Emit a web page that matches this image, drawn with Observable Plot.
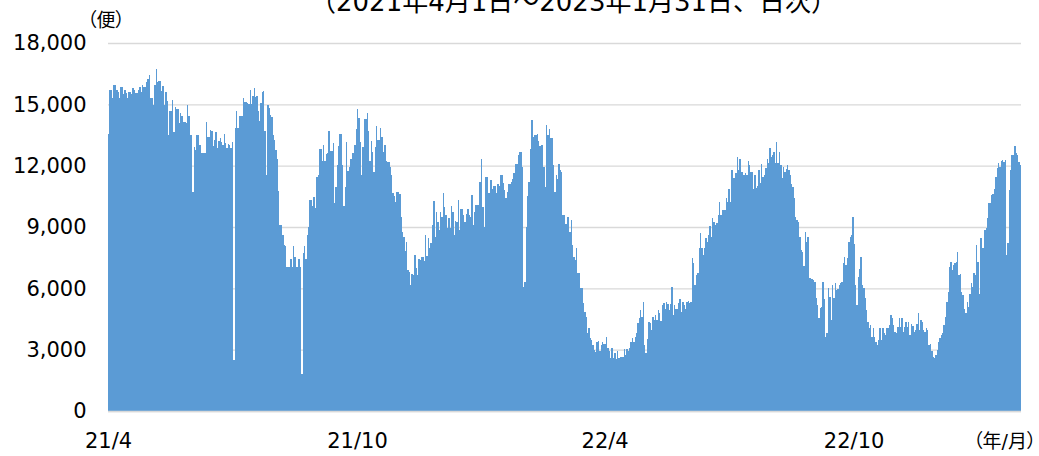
<!DOCTYPE html>
<html><head><meta charset="utf-8">
<script src="https://cdn.jsdelivr.net/npm/d3@7"></script>
<script src="https://cdn.jsdelivr.net/npm/@observablehq/plot@0.6"></script>
<style>
body{margin:0;background:#fff;}
#wrap{position:relative;width:1039px;height:456px;overflow:hidden;font-family:"DejaVu Sans","Noto Sans CJK JP",sans-serif;color:#000;}
#title{position:absolute;left:310px;top:-11px;font-size:26px;line-height:26px;white-space:nowrap;}
#unit{position:absolute;left:87px;top:9px;font-size:19px;line-height:22px;white-space:nowrap;font-feature-settings:"palt";}
#xunit{position:absolute;left:973px;top:430px;font-size:19px;line-height:22px;white-space:nowrap;font-feature-settings:"palt";}
#chart{position:absolute;left:0;top:0;}
</style></head>
<body>
<div id="wrap">
  <div id="chart"></div>
  <div id="title"></div>
  <div id="unit"></div>
  <div id="xunit"></div>
</div>
<script>
// Text
const titleText = "（2021年4月1日～2023年1月31日、日次）";
const unitText = "（便）";
const xUnitText = "（年/月）";

// Axis ticks
const yTicks = [0, 3000, 6000, 9000, 12000, 15000, 18000];
const xTickDates = ["2021-04-01", "2021-10-01", "2022-04-01", "2022-10-01"];
const xTickLabels = ["21/4", "21/10", "22/4", "22/10"];

// Daily flights, one array per month
const apr2021 = [13550,15700,15700,15300,15950,15950,15700,15600,15300,15850,15850,15500,15700,15550,15300,15600,15600,15500,15800,15700,15550,15550,15700,15850,15600,15950,15850,15850,16100,16250];
const may2021 = [16450,15300,15300,14950,15950,16750,16100,16150,16150,15650,15900,14950,15600,15150,13500,14650,14650,15200,13650,14850,14750,14750,14100,14600,14450,14150,14150,14100,14950,14450,13500];
const jun2021 = [13500,10700,12900,12750,13500,13500,13000,12600,12600,12600,12600,14150,13400,13400,13750,13700,12950,13250,13650,12850,13200,13350,13150,13000,13550,13100,12850,13050,13000,12850];
const jul2021 = [13150,2500,13850,14650,13850,14450,14450,14450,15300,15100,15100,15050,15000,15700,15000,15400,15800,15350,15400,14650,14200,15050,15600,15650,13700,11550,14950,14800,14500,14400,13500];
const aug2021 = [13250,12750,12350,10750,9100,9100,8600,8100,8050,7050,7050,7050,7450,7050,8050,7550,7050,7050,7450,7050,1800,7750,8050,7450,8600,9000,10300,10300,10050,10450,9950];
const sep2021 = [11450,11550,12800,12800,12250,13000,12250,12550,12600,13700,12700,12700,13100,10150,10950,12050,12950,13550,13550,12050,10050,10950,13150,11750,11950,12350,12600,12600,13000,13800];
const oct2021 = [14750,14350,13150,11550,12900,14300,14300,14600,13700,12250,13200,12650,11700,12900,13950,13250,13250,13850,13400,12650,13000,12250,12200,12200,11950,11550,10650,10500,10200,10700,10700];
const nov2021 = [10600,9500,8750,8500,7850,8250,6900,6800,6150,6700,6650,7650,7000,6650,7450,7400,7550,7550,7350,8600,7600,8450,7950,8200,9100,10250,8500,9750,9250,8850];
const dec2021 = [9750,9500,10650,10000,9600,8950,9450,8950,10050,9750,8600,9300,9250,10300,8850,9900,9900,9600,9250,9650,9900,9600,9500,10560,9100,9750,10080,10080,10080,11210,12350];
const jan2022 = [10000,9000,11460,11460,10640,10640,11300,10880,11000,11000,10640,11080,11000,11540,11540,11130,10800,10430,10690,11080,11080,11210,11370,11620,12100,12100,12510,12650,12650,11950,6080];
const feb2022 = [6320,9000,10500,11210,12810,14230,13410,13490,13490,13570,13200,12970,13000,13000,11950,10970,13980,13490,13780,13330,13330,12030,10730,11540,11370,12100,11780,11700];
const mar2022 = [9600,9600,9150,9500,9500,8770,9340,8120,7550,7390,7990,6730,6730,6000,6000,5260,4860,4610,3800,4040,3550,3470,3230,2980,2900,3390,3420,2940,3230,3360,3260];
const apr2022 = [3260,3640,3100,2940,2570,3100,2570,2820,2540,2940,2570,2650,2650,2650,3030,2740,3030,2940,3070,3390,3590,3390,3640,3800,4290,4530,4940,4610,5350,3230];
const may2022 = [2850,3520,4370,4290,3960,4610,4450,4690,4450,4940,4780,4400,5170,5260,5010,5340,5210,4940,5210,6070,4690,5170,5010,5010,5260,5500,4850,5340,5170,5010,5340];
const jun2022 = [5370,5260,5340,7460,7220,6160,6650,6730,7950,8690,7990,7630,7950,8440,8280,8610,9070,8530,9420,9260,9100,9180,9590,10240,9590,9830,9830,9830,10400,10240];
const jul2022 = [10860,10240,11780,11380,11380,11620,12440,11780,12350,11700,11700,11540,11620,11540,12230,12030,11700,11670,10880,11540,10920,11010,11780,11130,12060,11460,11540,11870,12350,12110,12880];
const aug2022 = [12440,12520,12680,12110,13170,12110,12650,12030,11380,11950,11700,11830,12030,11780,11540,11080,10970,10400,9500,9340,9260,8530,7880,7790,7110,8770,8280,8530,6520,6490,6450];
const sep2022 = [6410,6320,5510,5180,4530,5020,5100,6320,5500,3640,3800,6000,5600,4450,6160,5510,6240,5900,5990,6160,6240,6320,7220,7550,7140,7470,8280,8530,8610,9500];
const oct2022 = [8150,6160,5180,6550,6960,7550,6160,6000,5510,4940,4370,4040,4210,3640,4040,3640,3390,3230,3470,4040,3470,4080,3800,3720,4040,4080,4210,4690,4530,4210,3880];
const nov2022 = [3800,4130,4530,4130,4530,3880,4130,4370,4130,4370,3720,4240,4170,3880,3960,4240,4770,3960,4450,4370,3960,3880,4040,3960,3230,3260,2940,2650,2570,2740];
const dec2022 = [2980,3390,3550,3720,3800,4210,4610,5340,5820,7060,7300,6900,7140,7220,7300,7790,6650,6680,5820,5660,5010,4770,5340,5100,5740,6240,6080,6730,6650,8120,7300];
const jan2023 = [5740,8440,7950,7950,8850,8930,9420,10150,10150,10560,10600,10880,11460,11870,12110,11950,12230,12280,12200,12280,7630,8200,10800,11780,12520,12520,12970,12600,12520,12200,12030];

const monthStarts = ["2021-04-01","2021-05-01","2021-06-01","2021-07-01","2021-08-01","2021-09-01","2021-10-01","2021-11-01","2021-12-01","2022-01-01","2022-02-01","2022-03-01","2022-04-01","2022-05-01","2022-06-01","2022-07-01","2022-08-01","2022-09-01","2022-10-01","2022-11-01","2022-12-01","2023-01-01"];
const monthValues = [apr2021,may2021,jun2021,jul2021,aug2021,sep2021,oct2021,nov2021,dec2021,jan2022,feb2022,mar2022,apr2022,may2022,jun2022,jul2022,aug2022,sep2022,oct2022,nov2022,dec2022,jan2023];

// Build daily table
const DAY = 86400000;
const data = [];
monthStarts.forEach((s, mi) => {
  const t0 = Date.parse(s + "T00:00:00Z");
  monthValues[mi].forEach((v, i) => {
    const t = t0 + i * DAY;
    data.push({start: new Date(t), end: new Date(t + DAY), value: v});
  });
});

const xDomain = [data[0].start, data[data.length - 1].end];
const xTicks = xTickDates.map(s => new Date(s + "T00:00:00Z"));
const labelMap = new Map(xTicks.map((d, i) => [+d, xTickLabels[i]]));

const chart = Plot.plot({
  width: 1039,
  height: 456,
  marginLeft: 108,
  marginRight: 18,
  marginTop: 43,
  marginBottom: 45,
  x: {type: "utc", domain: xDomain},
  y: {domain: [0, 18000]},
  style: {fontFamily: '"DejaVu Sans","Noto Sans CJK JP",sans-serif', fontSize: "21px", color: "#000", background: "transparent", overflow: "visible"},
  marks: [
    Plot.gridY(yTicks, {stroke: "#d9d9d9", strokeOpacity: 1, strokeWidth: 1.3}),
    Plot.rectY(data, {x1: "start", x2: "end", y: "value", fill: "#5b9bd5", shapeRendering: "crispEdges"}),
    Plot.ruleY([0], {stroke: "#d9d9d9", strokeWidth: 1.5}),
    Plot.axisY(yTicks, {tickSize: 0, tickPadding: 22, tickFormat: d3.format(","), label: null}),
    Plot.axisX(xTicks, {tickSize: 0, tickPadding: 22, tickFormat: d => labelMap.get(+d), label: null})
  ]
});
document.getElementById("chart").appendChild(chart);
document.getElementById("title").textContent = titleText;
document.getElementById("unit").textContent = unitText;
document.getElementById("xunit").textContent = xUnitText;
</script>
</body></html>
